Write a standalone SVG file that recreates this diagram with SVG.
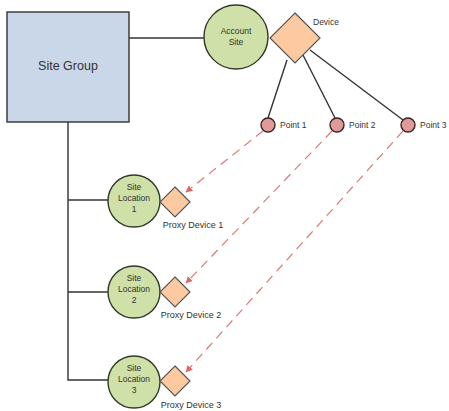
<svg xmlns="http://www.w3.org/2000/svg" width="449" height="411" viewBox="0 0 449 411">
<defs>
<style>
text{font-family:"Liberation Sans",Arial,sans-serif;fill:#333;}
.lbl{font-size:8.5px;}
.px{font-size:9px;text-anchor:middle;}
.c{text-anchor:middle;}
.solid{stroke:#333;stroke-width:1.4;fill:none;}
.dash{stroke:#d97a78;stroke-width:1.2;fill:none;stroke-dasharray:9 6;}
.green{fill:#cfe0a8;stroke:#2f3a26;stroke-width:1.4;}
.dia{fill:#fdc9a0;stroke:#555;stroke-width:1.2;}
.pt{fill:#e09a98;stroke:#3a2424;stroke-width:1.4;}
</style>
<marker id="ah" viewBox="0 0 10 10" refX="9" refY="5" markerWidth="7" markerHeight="7" orient="auto" markerUnits="userSpaceOnUse">
<path d="M0,0 L10,5 L0,10 z" fill="#d96a68"/>
</marker>
</defs>
<rect width="449" height="411" fill="#fff"/>
<g id="connectors">
<line class="solid" x1="129" y1="38" x2="204" y2="38"/>
<polyline class="solid" points="68,122 68,380 108,380"/>
<line class="solid" x1="68" y1="200" x2="108" y2="200"/>
<line class="solid" x1="68" y1="292" x2="108" y2="292"/>
<line class="solid" x1="287" y1="60" x2="268" y2="118"/>
<line class="solid" x1="303" y1="55" x2="335" y2="118"/>
<line class="solid" x1="310" y1="50" x2="403" y2="120"/>
<line class="dash" x1="263" y1="131" x2="186" y2="192" marker-end="url(#ah)"/>
<line class="dash" x1="332" y1="131" x2="186" y2="283" marker-end="url(#ah)"/>
<line class="dash" x1="403" y1="131" x2="186" y2="372" marker-end="url(#ah)"/>
</g>
<g id="site-group">
<rect x="7" y="12" width="122" height="110" fill="#c9d7e8" stroke="#333" stroke-width="1.4"/>
<text x="68" y="70" class="c" font-size="12.5" fill="#444">Site Group</text>
</g>
<g id="account-site">
<circle class="green" cx="236" cy="37" r="32"/>
<text x="236" y="34" class="c lbl">Account</text>
<text x="236" y="45" class="c lbl">Site</text>
</g>
<g id="device">
<polygon class="dia" points="295,13 320,38 295,63 270,38"/>
<text x="313" y="25" class="lbl">Device</text>
</g>
<g id="point1">
<circle class="pt" cx="268" cy="125" r="7"/>
<text x="280" y="128" class="lbl">Point 1</text>
</g>
<g id="point2">
<circle class="pt" cx="337" cy="125" r="7"/>
<text x="349" y="128" class="lbl">Point 2</text>
</g>
<g id="point3">
<circle class="pt" cx="408" cy="125" r="7"/>
<text x="420" y="128" class="lbl">Point 3</text>
</g>
<g id="site-location-1">
<circle class="green" cx="134" cy="201" r="26"/>
<text x="134" y="190" class="c lbl">Site</text>
<text x="134" y="201" class="c lbl">Location</text>
<text x="134" y="212" class="c lbl">1</text>
</g>
<g id="proxy-device-1">
<polygon class="dia" points="175,187 190,202 175,217 160,202"/>
<text x="193" y="228" class="px">Proxy Device 1</text>
</g>
<g id="site-location-2">
<circle class="green" cx="134" cy="292" r="26"/>
<text x="134" y="281" class="c lbl">Site</text>
<text x="134" y="292" class="c lbl">Location</text>
<text x="134" y="303" class="c lbl">2</text>
</g>
<g id="proxy-device-2">
<polygon class="dia" points="175,277 190,292 175,307 160,292"/>
<text x="191" y="318" class="px">Proxy Device 2</text>
</g>
<g id="site-location-3">
<circle class="green" cx="134" cy="382" r="26"/>
<text x="134" y="371" class="c lbl">Site</text>
<text x="134" y="382" class="c lbl">Location</text>
<text x="134" y="393" class="c lbl">3</text>
</g>
<g id="proxy-device-3">
<polygon class="dia" points="175,366 190,381 175,396 160,381"/>
<text x="191" y="408" class="px">Proxy Device 3</text>
</g>
</svg>
